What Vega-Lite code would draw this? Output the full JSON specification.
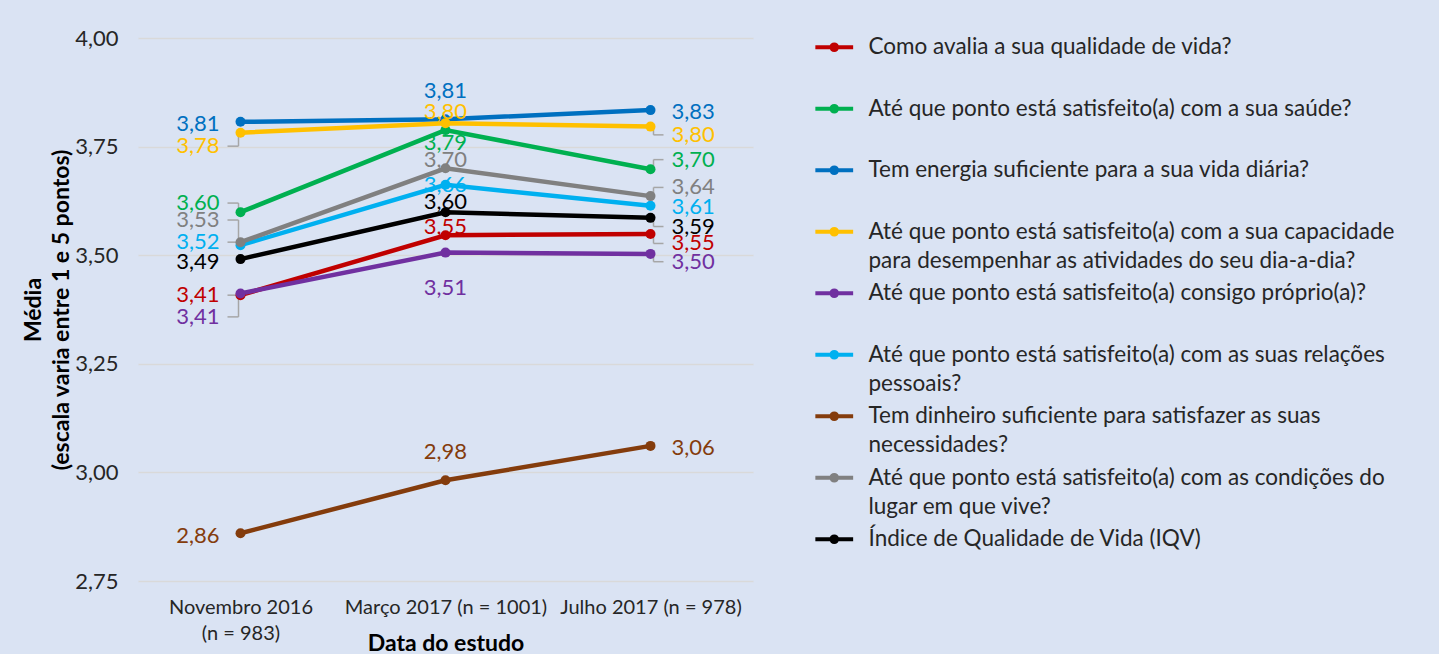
{
  "$schema": "https://vega.github.io/schema/vega-lite/v6.json",
  "background": "#DAE3F3",
  "padding": {"left": 22, "top": 27, "right": 46, "bottom": 5},
  "width": 615,
  "height": 543,
  "config": {
    "locale": {"number": {"decimal": ",", "thousands": ".", "grouping": [3], "currency": ["", " €"]}},
    "font": "Lato",
    "view": {"stroke": null},
    "axisY": {"grid": true, "gridColor": "#D9D9D9", "gridWidth": 1.5, "domain": false, "ticks": false, "labelFontSize": 22, "labelColor": "#262626", "labelPadding": 20, "titleFontSize": 23, "titleFontWeight": "bold", "titleColor": "#000000", "titleLineHeight": 28, "titlePadding": 1},
    "axisX": {"grid": false, "domain": false, "ticks": false, "labelFontSize": 20, "labelColor": "#262626", "labelPadding": 16, "labelLineHeight": 26, "labelAngle": 0, "labelLimit": 400, "titleFontSize": 23, "titleFontWeight": "bold", "titleColor": "#000000", "titleY": 62, "titleBaseline": "middle"},
    "legend": {
      "title": null,
      "orient": "none",
      "legendX": 672,
      "legendY": -2,
      "padding": 0,
      "symbolType": "M-2.7,0H2.7M0.4,0A0.4,0.4 0 1,1 -0.4,0A0.4,0.4 0 1,1 0.4,0",
      "symbolSize": 196,
      "symbolStrokeWidth": 4,
      "symbolOffset": 13,
      "labelFontSize": 22.5,
      "labelColor": "#262626",
      "labelLimit": 800,
      "labelOffset": 23,
      "labelBaseline": "middle",
      "rowPadding": 9.5
    }
  },
  "data": {"values": [
    {"s": "Como avalia a sua qualidade de vida?| ", "d": "Novembro 2016|(n = 983)", "v": 3.408, "ly": 3.408, "lead": 1},
    {"s": "Como avalia a sua qualidade de vida?| ", "d": "Março 2017 (n = 1001)", "v": 3.546, "ly": 3.566, "lead": 0},
    {"s": "Como avalia a sua qualidade de vida?| ", "d": "Julho 2017 (n = 978)", "v": 3.549, "ly": 3.527, "lead": 1},
    {"s": "Até que ponto está satisfeito(a) com a sua saúde?| ", "d": "Novembro 2016|(n = 983)", "v": 3.599, "ly": 3.620, "lead": 1},
    {"s": "Até que ponto está satisfeito(a) com a sua saúde?| ", "d": "Março 2017 (n = 1001)", "v": 3.788, "ly": 3.758, "lead": 0},
    {"s": "Até que ponto está satisfeito(a) com a sua saúde?| ", "d": "Julho 2017 (n = 978)", "v": 3.698, "ly": 3.720, "lead": 1},
    {"s": "Tem energia suficiente para a sua vida diária?| ", "d": "Novembro 2016|(n = 983)", "v": 3.807, "ly": 3.802, "lead": 0},
    {"s": "Tem energia suficiente para a sua vida diária?| ", "d": "Março 2017 (n = 1001)", "v": 3.813, "ly": 3.878, "lead": 0},
    {"s": "Tem energia suficiente para a sua vida diária?| ", "d": "Julho 2017 (n = 978)", "v": 3.834, "ly": 3.830, "lead": 0},
    {"s": "Até que ponto está satisfeito(a) com a sua capacidade|para desempenhar as atividades do seu dia-a-dia?", "d": "Novembro 2016|(n = 983)", "v": 3.782, "ly": 3.751, "lead": 1},
    {"s": "Até que ponto está satisfeito(a) com a sua capacidade|para desempenhar as atividades do seu dia-a-dia?", "d": "Março 2017 (n = 1001)", "v": 3.804, "ly": 3.830, "lead": 0},
    {"s": "Até que ponto está satisfeito(a) com a sua capacidade|para desempenhar as atividades do seu dia-a-dia?", "d": "Julho 2017 (n = 978)", "v": 3.796, "ly": 3.777, "lead": 1},
    {"s": "Até que ponto está satisfeito(a) consigo próprio(a)?| ", "d": "Novembro 2016|(n = 983)", "v": 3.412, "ly": 3.358, "lead": 1},
    {"s": "Até que ponto está satisfeito(a) consigo próprio(a)?| ", "d": "Março 2017 (n = 1001)", "v": 3.506, "ly": 3.425, "lead": 0},
    {"s": "Até que ponto está satisfeito(a) consigo próprio(a)?| ", "d": "Julho 2017 (n = 978)", "v": 3.503, "ly": 3.485, "lead": 1},
    {"s": "Até que ponto está satisfeito(a) com as suas relações|pessoais?", "d": "Novembro 2016|(n = 983)", "v": 3.523, "ly": 3.530, "lead": 1},
    {"s": "Até que ponto está satisfeito(a) com as suas relações|pessoais?", "d": "Março 2017 (n = 1001)", "v": 3.662, "ly": 3.662, "lead": 0},
    {"s": "Até que ponto está satisfeito(a) com as suas relações|pessoais?", "d": "Julho 2017 (n = 978)", "v": 3.614, "ly": 3.611, "lead": 0},
    {"s": "Tem dinheiro suficiente para satisfazer as suas|necessidades?", "d": "Novembro 2016|(n = 983)", "v": 2.860, "ly": 2.854, "lead": 0},
    {"s": "Tem dinheiro suficiente para satisfazer as suas|necessidades?", "d": "Março 2017 (n = 1001)", "v": 2.982, "ly": 3.048, "lead": 0},
    {"s": "Tem dinheiro suficiente para satisfazer as suas|necessidades?", "d": "Julho 2017 (n = 978)", "v": 3.061, "ly": 3.057, "lead": 0},
    {"s": "Até que ponto está satisfeito(a) com as condições do|lugar em que vive?", "d": "Novembro 2016|(n = 983)", "v": 3.530, "ly": 3.581, "lead": 1},
    {"s": "Até que ponto está satisfeito(a) com as condições do|lugar em que vive?", "d": "Março 2017 (n = 1001)", "v": 3.700, "ly": 3.720, "lead": 0},
    {"s": "Até que ponto está satisfeito(a) com as condições do|lugar em que vive?", "d": "Julho 2017 (n = 978)", "v": 3.636, "ly": 3.656, "lead": 1},
    {"s": "Índice de Qualidade de Vida (IQV)| ", "d": "Novembro 2016|(n = 983)", "v": 3.491, "ly": 3.484, "lead": 0},
    {"s": "Índice de Qualidade de Vida (IQV)| ", "d": "Março 2017 (n = 1001)", "v": 3.599, "ly": 3.623, "lead": 0},
    {"s": "Índice de Qualidade de Vida (IQV)| ", "d": "Julho 2017 (n = 978)", "v": 3.586, "ly": 3.566, "lead": 1}
  ]},
  "encoding": {
    "x": {
      "field": "d", "type": "ordinal",
      "sort": ["Novembro 2016|(n = 983)", "Março 2017 (n = 1001)", "Julho 2017 (n = 978)"],
      "scale": {"type": "point", "padding": 0.5},
      "title": "Data do estudo",
      "axis": {"labelExpr": "split(datum.label, '|')"}
    }
  },
  "layer": [
    {
      "transform": [{"filter": "datum.lead == 1 && datum.d == 'Novembro 2016|(n = 983)'"}],
      "mark": {"type": "rule", "color": "#A6A6A6", "strokeWidth": 1.5, "xOffset": -2},
      "encoding": {
        "y": {"field": "v", "type": "quantitative", "scale": {"domain": [2.75, 4]}, "title": ["Média", "(escala varia entre 1 e 5 pontos)"]},
        "y2": {"field": "ly"}
      }
    },
    {
      "transform": [{"filter": "datum.lead == 1 && datum.d == 'Novembro 2016|(n = 983)'"}],
      "mark": {"type": "rule", "color": "#A6A6A6", "strokeWidth": 1.5, "xOffset": -13, "x2Offset": -2},
      "encoding": {
        "x2": {"field": "d"},
        "y": {"field": "ly", "type": "quantitative", "scale": {"domain": [2.75, 4]}, "title": ["Média", "(escala varia entre 1 e 5 pontos)"]}
      }
    },
    {
      "transform": [{"filter": "datum.lead == 1 && datum.d == 'Julho 2017 (n = 978)'"}],
      "mark": {"type": "rule", "color": "#A6A6A6", "strokeWidth": 1.5, "xOffset": 3},
      "encoding": {
        "y": {"field": "v", "type": "quantitative", "scale": {"domain": [2.75, 4]}, "title": ["Média", "(escala varia entre 1 e 5 pontos)"]},
        "y2": {"field": "ly"}
      }
    },
    {
      "transform": [{"filter": "datum.lead == 1 && datum.d == 'Julho 2017 (n = 978)'"}],
      "mark": {"type": "rule", "color": "#A6A6A6", "strokeWidth": 1.5, "xOffset": 3, "x2Offset": 13},
      "encoding": {
        "x2": {"field": "d"},
        "y": {"field": "ly", "type": "quantitative", "scale": {"domain": [2.75, 4]}, "title": ["Média", "(escala varia entre 1 e 5 pontos)"]}
      }
    },
    {
      "mark": {"type": "line", "strokeWidth": 4.5, "point": {"filled": true, "size": 100}},
      "encoding": {
        "y": {
          "field": "v", "type": "quantitative",
          "scale": {"domain": [2.75, 4]},
          "title": ["Média", "(escala varia entre 1 e 5 pontos)"],
          "axis": {"values": [2.75, 3, 3.25, 3.5, 3.75, 4], "format": ".2f"}
        },
        "color": {
          "field": "s", "type": "nominal",
          "scale": {
            "domain": [
              "Como avalia a sua qualidade de vida?| ",
              "Até que ponto está satisfeito(a) com a sua saúde?| ",
              "Tem energia suficiente para a sua vida diária?| ",
              "Até que ponto está satisfeito(a) com a sua capacidade|para desempenhar as atividades do seu dia-a-dia?",
              "Até que ponto está satisfeito(a) consigo próprio(a)?| ",
              "Até que ponto está satisfeito(a) com as suas relações|pessoais?",
              "Tem dinheiro suficiente para satisfazer as suas|necessidades?",
              "Até que ponto está satisfeito(a) com as condições do|lugar em que vive?",
              "Índice de Qualidade de Vida (IQV)| "
            ],
            "range": ["#C00000", "#00B050", "#0070C0", "#FFC000", "#7030A0", "#00B0F0", "#843C0C", "#808080", "#000000"]
          },
          "legend": {
            "labelExpr": "split(datum.label, '|')",
            "encode": {
              "symbols": {"update": {"fill": {"scale": "color", "field": "value"}, "stroke": {"scale": "color", "field": "value"}, "opacity": {"value": 1}}},
              "labels": {"update": {"lineHeight": {"value": 29}}}
            }
          }
        }
      }
    },
    {
      "transform": [{"filter": "datum.d == 'Novembro 2016|(n = 983)'"}],
      "mark": {"type": "text", "align": "right", "baseline": "middle", "dx": -21, "fontSize": 22},
      "encoding": {
        "y": {"field": "ly", "type": "quantitative", "scale": {"domain": [2.75, 4]}, "title": ["Média", "(escala varia entre 1 e 5 pontos)"]},
        "text": {"field": "v", "type": "quantitative", "format": ".2f"},
        "color": {"field": "s", "type": "nominal", "legend": null}
      }
    },
    {
      "transform": [{"filter": "datum.d == 'Março 2017 (n = 1001)'"}],
      "mark": {"type": "text", "align": "center", "baseline": "middle", "fontSize": 22},
      "encoding": {
        "y": {"field": "ly", "type": "quantitative", "scale": {"domain": [2.75, 4]}, "title": ["Média", "(escala varia entre 1 e 5 pontos)"]},
        "text": {"field": "v", "type": "quantitative", "format": ".2f"},
        "color": {"field": "s", "type": "nominal", "legend": null}
      }
    },
    {
      "transform": [{"filter": "datum.d == 'Julho 2017 (n = 978)'"}],
      "mark": {"type": "text", "align": "left", "baseline": "middle", "dx": 21, "fontSize": 22},
      "encoding": {
        "y": {"field": "ly", "type": "quantitative", "scale": {"domain": [2.75, 4]}, "title": ["Média", "(escala varia entre 1 e 5 pontos)"]},
        "text": {"field": "v", "type": "quantitative", "format": ".2f"},
        "color": {"field": "s", "type": "nominal", "legend": null}
      }
    }
  ]
}
